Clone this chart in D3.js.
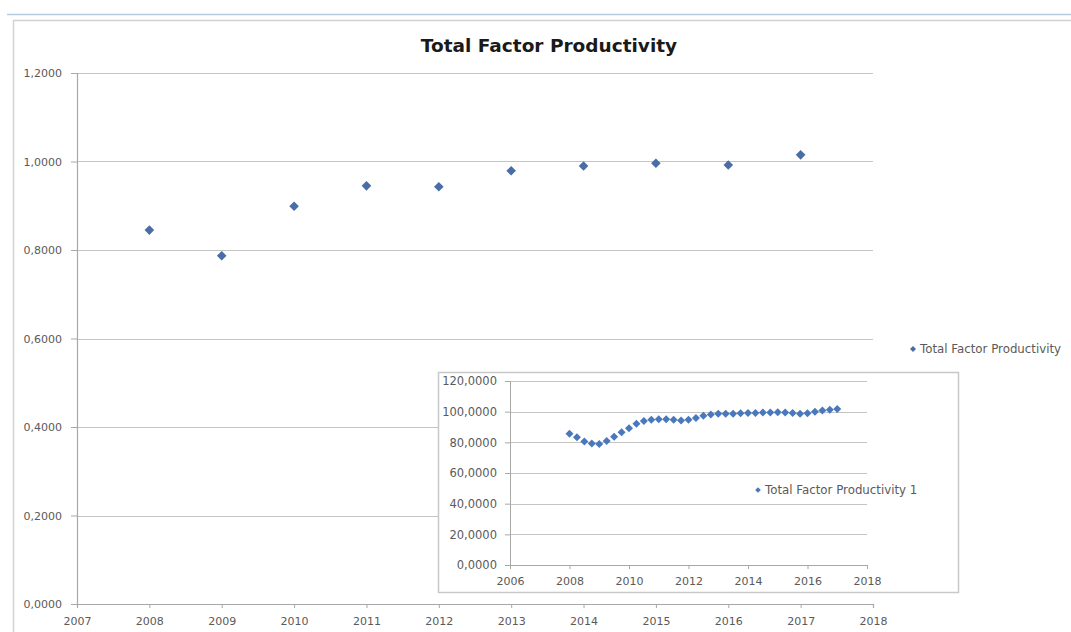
<!DOCTYPE html>
<html>
<head>
<meta charset="utf-8">
<script src="https://cdn.jsdelivr.net/npm/d3@7"></script>
<style>
  html, body { margin: 0; padding: 0; background: #fff; }
  svg { display: block; font-family: "DejaVu Sans", "Liberation Sans", Arial, sans-serif; }
</style>
</head>
<body>
<svg id="chart" width="1071" height="632"></svg>
<script>
// Annual Total Factor Productivity
const years = [2008, 2009, 2010, 2011, 2012, 2013, 2014, 2015, 2016, 2017];
const tfp = [0.845, 0.787, 0.899, 0.945, 0.943, 0.979, 0.990, 0.996, 0.992, 1.015];

// Quarterly index (Total Factor Productivity 1), 2008Q1 .. 2017Q1
const quarters = [
  2008.00, 2008.25, 2008.50, 2008.75, 2009.00, 2009.25, 2009.50, 2009.75,
  2010.00, 2010.25, 2010.50, 2010.75, 2011.00, 2011.25, 2011.50, 2011.75,
  2012.00, 2012.25, 2012.50, 2012.75, 2013.00, 2013.25, 2013.50, 2013.75,
  2014.00, 2014.25, 2014.50, 2014.75, 2015.00, 2015.25, 2015.50, 2015.75,
  2016.00, 2016.25, 2016.50, 2016.75, 2017.00
];
const tfpIndex = [
  85.6, 83.3, 80.6, 79.2, 78.9, 80.9, 83.6, 86.5,
  89.2, 92.2, 93.9, 94.7, 95.1, 95.1, 94.7, 94.2,
  94.7, 95.8, 97.3, 98.2, 98.6, 98.7, 98.7, 99.0,
  99.1, 99.1, 99.5, 99.5, 99.7, 99.5, 99.1, 98.7,
  99.0, 99.9, 100.7, 101.2, 101.7
];

const mainYTicks = [0, 0.2, 0.4, 0.6, 0.8, 1.0, 1.2];
const mainXTicks = [2007, 2008, 2009, 2010, 2011, 2012, 2013, 2014, 2015, 2016, 2017, 2018];
const insetYTicks = [0, 20, 40, 60, 80, 100, 120];
const insetXTicks = [2006, 2008, 2010, 2012, 2014, 2016, 2018];

const title = "Total Factor Productivity";
const legendMain = "Total Factor Productivity";
const legendInset = "Total Factor Productivity 1";

// comma decimal separator, four decimals
const fmt = v => v.toFixed(4).replace(".", ",");

const svg = d3.select("#chart");
const font = "DejaVu Sans, Liberation Sans, Arial, sans-serif";
const gridColor = "#c4c4c4";
const axisColor = "#a8a8a8";
const labelColor = "#5a5a5a";

// outer frame
svg.append("line").attr("x1", 7).attr("x2", 1071).attr("y1", 14.5).attr("y2", 14.5)
  .attr("stroke", "#b4cbe0").attr("stroke-width", 1.5);
svg.append("path").attr("d", "M13.5,632 V20.5 H1071")
  .attr("fill", "none").attr("stroke", "#d2d2d2").attr("stroke-width", 1.5);

// title
svg.append("text").attr("x", 549).attr("y", 52).attr("text-anchor", "middle")
  .attr("font-size", 18.5).attr("font-weight", "bold").attr("fill", "#1a1a1a").text(title);

// ---------- main plot ----------
const x = d3.scaleLinear().domain([2007, 2018]).range([77, 873]);
const y = d3.scaleLinear().domain([0, 1.2]).range([604, 73]);

const main = svg.append("g");
main.append("g").selectAll("line").data(mainYTicks.filter(d => d > 0)).join("line")
  .attr("x1", x(2007)).attr("x2", x(2018))
  .attr("y1", d => Math.round(y(d)) + 0.5).attr("y2", d => Math.round(y(d)) + 0.5)
  .attr("stroke", gridColor).attr("stroke-width", 1.2);

const yAxis = main.append("g").attr("transform", `translate(${x(2007)},0)`)
  .call(d3.axisLeft(y).tickValues(mainYTicks).tickFormat(fmt).tickSize(6).tickPadding(9));
const xAxis = main.append("g").attr("transform", `translate(0,${y(0)})`)
  .call(d3.axisBottom(x).tickValues(mainXTicks).tickFormat(d3.format("d")).tickSize(4).tickPadding(9));
[yAxis, xAxis].forEach(a => {
  a.select(".domain").attr("stroke", axisColor).attr("stroke-width", 1.2);
  a.selectAll(".tick line").attr("stroke", axisColor);
  a.selectAll("text").attr("fill", labelColor).attr("font-size", 11).attr("font-family", font);
});

const diamond = (s) => d3.symbol().type(d3.symbolSquare).size(s)();
main.append("g").selectAll("path").data(years).join("path")
  .attr("d", diamond(46))
  .attr("transform", (d, i) => `translate(${x(d)},${y(tfp[i])}) rotate(45)`)
  .attr("fill", "#4a6da5");

// legend
svg.append("path").attr("d", diamond(18)).attr("transform", "translate(913,349) rotate(45)")
  .attr("fill", "#4a6da5");
svg.append("text").attr("x", 920).attr("y", 353).attr("font-size", 11.8)
  .attr("fill", labelColor).text(legendMain);

// ---------- inset plot ----------
const inset = svg.append("g");
inset.append("rect").attr("x", 438.5).attr("y", 372.5).attr("width", 520).attr("height", 220)
  .attr("fill", "#fff").attr("stroke", "#c8c8c8").attr("stroke-width", 1.5);

const xi = d3.scaleLinear().domain([2006, 2018]).range([510, 867]);
const yi = d3.scaleLinear().domain([0, 120]).range([565, 381]);

inset.append("g").selectAll("line").data(insetYTicks.filter(d => d > 0)).join("line")
  .attr("x1", xi(2006)).attr("x2", xi(2018))
  .attr("y1", d => Math.round(yi(d)) + 0.5).attr("y2", d => Math.round(yi(d)) + 0.5)
  .attr("stroke", gridColor).attr("stroke-width", 1);

const yAxisI = inset.append("g").attr("transform", `translate(${xi(2006)},0)`)
  .call(d3.axisLeft(yi).tickValues(insetYTicks).tickFormat(fmt).tickSize(5).tickPadding(8));
const xAxisI = inset.append("g").attr("transform", `translate(0,${yi(0)})`)
  .call(d3.axisBottom(xi).tickValues(insetXTicks).tickFormat(d3.format("d")).tickSize(4).tickPadding(8));
[yAxisI, xAxisI].forEach(a => {
  a.select(".domain").attr("stroke", axisColor).attr("stroke-width", 1);
  a.selectAll(".tick line").attr("stroke", axisColor);
  a.selectAll("text").attr("fill", labelColor).attr("font-size", 11).attr("font-family", font);
});
yAxisI.selectAll("text").attr("font-size", 11.5);

inset.append("g").selectAll("path").data(quarters).join("path")
  .attr("d", diamond(32))
  .attr("transform", (d, i) => `translate(${xi(d)},${yi(tfpIndex[i])}) rotate(45)`)
  .attr("fill", "#4a78bd");

inset.append("path").attr("d", diamond(16)).attr("transform", "translate(758,490) rotate(45)")
  .attr("fill", "#4a78bd");
inset.append("text").attr("x", 765).attr("y", 494).attr("font-size", 11.8)
  .attr("fill", labelColor).text(legendInset);
</script>
</body>
</html>
